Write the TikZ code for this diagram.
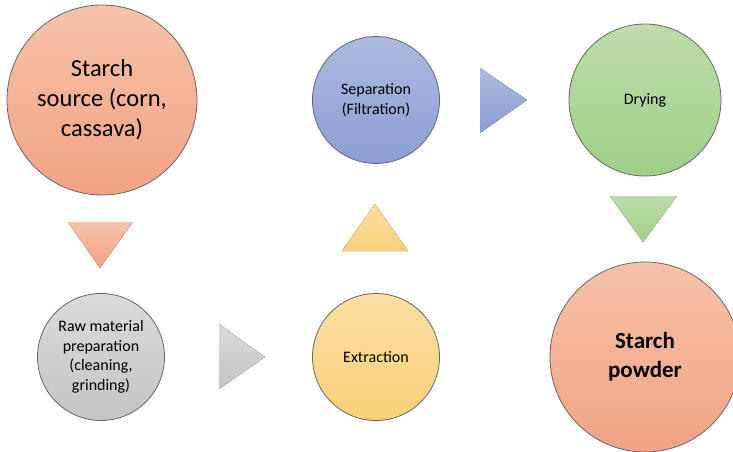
\documentclass[tikz,border=0pt]{standalone}
\usepackage{fontspec}
\setmainfont{Carlito}
\definecolor{peachtop}{HTML}{F6C2AA}
\definecolor{peachbot}{HTML}{F1A282}
\definecolor{greytop}{HTML}{DADADA}
\definecolor{greybot}{HTML}{C4C4C4}
\definecolor{yellowtop}{HTML}{FCDFA2}
\definecolor{yellowbot}{HTML}{F9D078}
\definecolor{bluetop}{HTML}{AABADF}
\definecolor{bluebot}{HTML}{8B9ED4}
\definecolor{greentop}{HTML}{BCDDAB}
\definecolor{greenbot}{HTML}{9ECF86}
\tikzset{
	stage/.style={circle, draw=black!60, line width=0.8pt, inner sep=0pt, align=center, text=black},
	small/.style={font=\fontsize{16}{19.5}\selectfont},
	big/.style={font=\fontsize{24.5}{30}\selectfont}
}
\begin{document}
\begin{tikzpicture}[x=1pt,y=-1pt]
		\useasboundingbox (0,0) rectangle (733,452);
		% stages
		\node[stage, big, minimum size=190pt, top color=peachtop, bottom color=peachbot] (source) at (102,100) {Starch\\source (corn,\\cassava)};
		\node[stage, small, minimum size=127pt, top color=greytop, bottom color=greybot] (raw) at (101,357) {Raw material\\preparation\\(cleaning,\\grinding)};
		\node[stage, small, minimum size=127pt, top color=yellowtop, bottom color=yellowbot] (extract) at (376,357) {Extraction};
		\node[stage, small, minimum size=127pt, top color=bluetop, bottom color=bluebot] (separate) at (376,100) {Separation\\(Filtration)};
		\node[stage, small, minimum size=152pt, top color=greentop, bottom color=greenbot] (dry) at (645,100) {Drying};
		\node[stage, big, minimum size=190pt, top color=peachtop, bottom color=peachbot, font=\fontsize{23}{29}\selectfont\bfseries] (powder) at (645,357) {Starch\\powder};
		% arrows
		\fill[top color=peachtop, bottom color=peachbot] (68,222)--(133,222)--(100,268)--cycle;
		\fill[top color=greytop, bottom color=greybot] (219,324)--(265,357)--(219,389)--cycle;
		\fill[top color=yellowtop, bottom color=yellowbot] (342,251)--(375,204)--(408,251)--cycle;
		\fill[top color=bluetop, bottom color=bluebot] (480,68)--(527,100)--(480,133)--cycle;
		\fill[top color=greentop, bottom color=greenbot] (610,196)--(677,196)--(643,242)--cycle;
	\end{tikzpicture}
\end{document}
